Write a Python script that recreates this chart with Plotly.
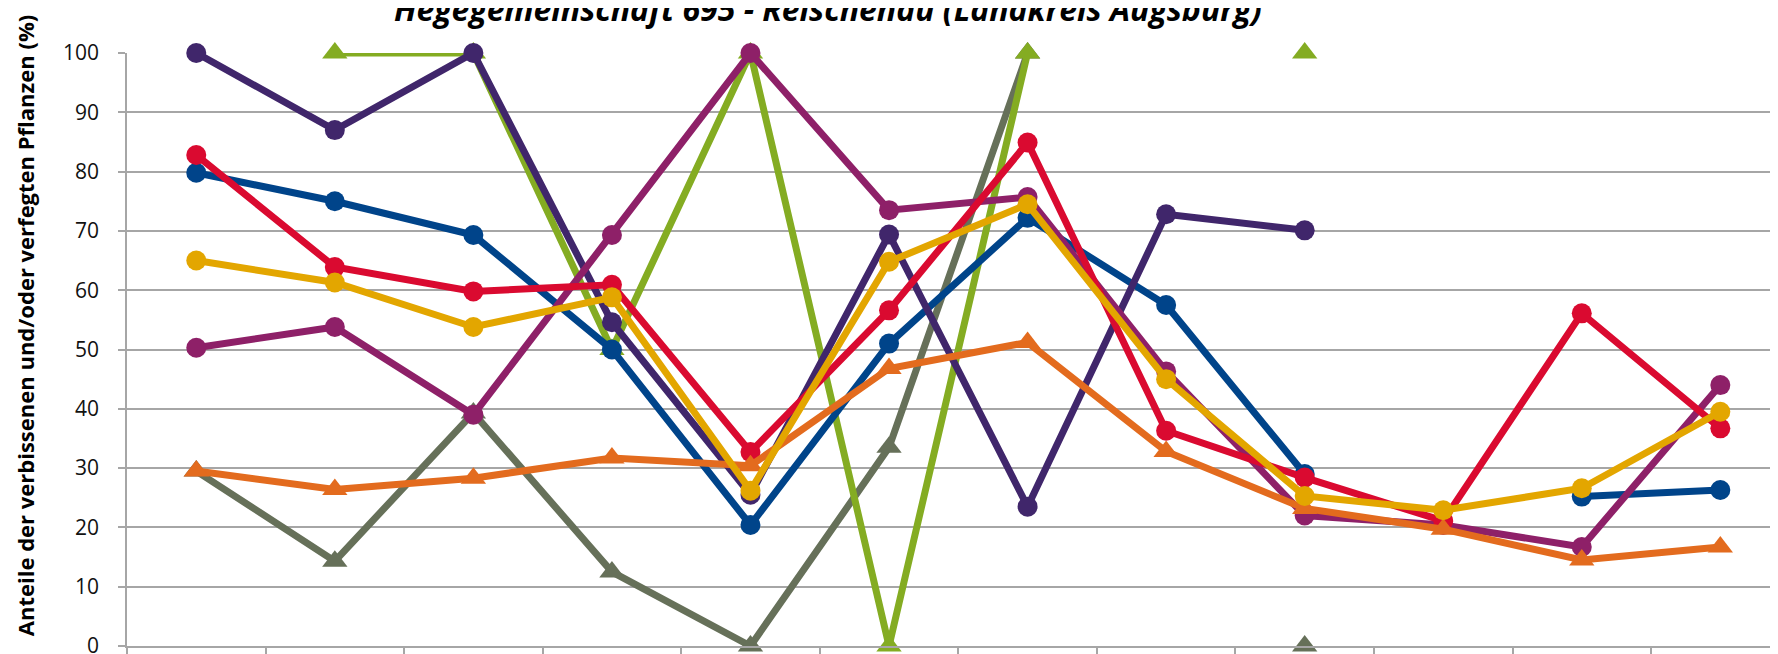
import plotly.graph_objects as go

# Category positions (x labels are cut off in the reference)
categories = list(range(12))

# Series values (%), None = no data
dark_purple = [100, 87, 100, 54.6, 25.5, 69.4, 23.5, 72.8, 70.1, None, None, None]
green = [None, 100, 100, 50, 100, 0, 100, None, 100, None, None, None]
blue = [79.8, 75, 69.3, 50, 20.4, 51, 72.2, 57.5, 29, None, 25.2, 26.3]
red = [82.8, 63.9, 59.8, 60.9, 32.7, 56.6, 84.9, 36.3, 28.4, 21.1, 56.1, 36.7]
yellow = [65, 61.3, 53.8, 58.8, 26.2, 64.8, 74.5, 45, 25.3, 22.9, 26.6, 39.5]
magenta = [50.3, 53.8, 39, 69.3, 100, 73.5, 75.7, 46.3, 22, 20.4, 16.7, 44]
grey = [29.5, 14.3, 39.3, 12.5, 0, 33.5, 100, None, 0, None, None, None]
orange = [29.5, 26.4, 28.3, 31.7, 30.4, 46.8, 51.2, 32.8, 23.2, 19.7, 14.5, 16.7]

y_ticks = list(range(0, 101, 10))

title_text = "Hegegemeinschaft 695 - Reischenau (Landkreis Augsburg)"
y_title = "Anteile der verbissenen und/oder verfegten Pflanzen (%)"

# draw order (bottom -> top)
series = [
    ("Reihe 7", grey, "#667059", "triangle-up"),
    ("Reihe 2", green, "#84AC22", "triangle-up"),
    ("Reihe 3", blue, "#00448A", "circle"),
    ("Reihe 1", dark_purple, "#40266B", "circle"),
    ("Reihe 6", magenta, "#8E2068", "circle"),
    ("Reihe 4", red, "#DA0A30", "circle"),
    ("Reihe 8", orange, "#E36B1E", "triangle-up"),
    ("Reihe 5", yellow, "#E3A600", "circle"),
]

fig = go.Figure()
for name, vals, col, sym in series:
    fig.add_trace(go.Scatter(
        x=categories, y=vals, name=name, mode="lines+markers",
        line=dict(color=col, width=7),
        marker=dict(color=col, size=20 if sym == "circle" else 22, symbol=sym,
                    line=dict(width=0)),
        cliponaxis=False,
    ))

grid_col = "#A6A6A6"
fig.update_layout(
    width=1778, height=654,
    margin=dict(l=119, r=0, t=45, b=16, autoexpand=False),
    plot_bgcolor="white", paper_bgcolor="white",
    showlegend=False,
    xaxis=dict(
        range=[-0.5, 11.474],
        tickmode="array", tickvals=[i - 0.5 for i in range(13)],
        ticks="outside", ticklen=10, tickcolor=grid_col, tickwidth=1.5,
        showticklabels=False, showgrid=False, zeroline=False,
        showline=True, linecolor=grid_col, linewidth=1.5,
        automargin=False,
    ),
    yaxis=dict(
        range=[0, 100], tickmode="array", tickvals=y_ticks,
        ticks="outside", ticklen=7, tickcolor=grid_col, tickwidth=1.5,
        showgrid=True, gridcolor=grid_col, gridwidth=1.5,
        zeroline=False, showline=True, linecolor=grid_col, linewidth=1.5,
        tickfont=dict(family="Open Sans", size=21, color="#111111"),
        ticklabelstandoff=15, automargin=False,
    ),
    annotations=[
        dict(text=title_text, xref="paper", yref="paper", x=0.4225, y=1.0355,
             xanchor="center", yanchor="bottom", showarrow=False,
             font=dict(family="Open Sans", size=32, color="#000000",
                       weight="bold", style="italic")),
        dict(text=y_title, xref="paper", yref="paper", x=-0.0615, y=0.541,
             xanchor="center", yanchor="middle", textangle=-90, showarrow=False,
             font=dict(family="Open Sans", size=22, color="#000000", weight="bold")),
    ],
)

fig.write_html("out.html")
